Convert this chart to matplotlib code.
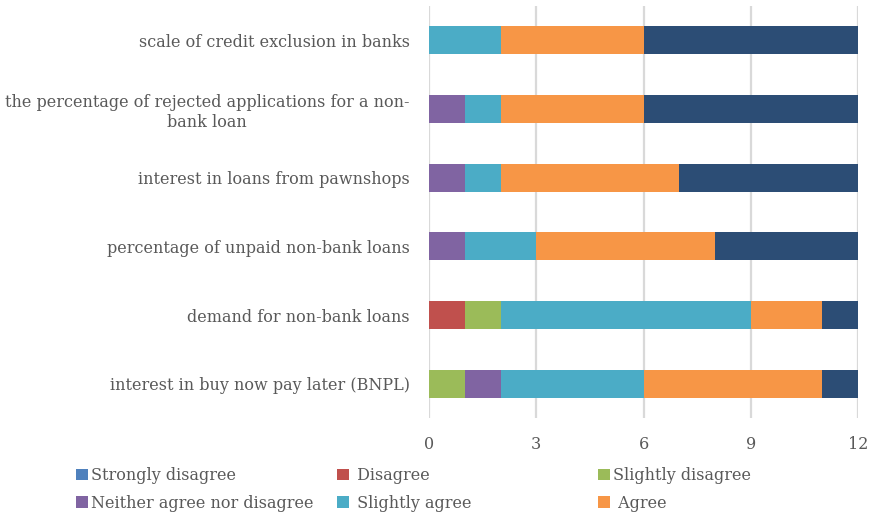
import matplotlib
matplotlib.use("Agg")
import matplotlib.pyplot as plt
from matplotlib.patches import Patch
import numpy as np

categories = [
    "interest in buy now pay later (BNPL)",
    "demand for non-bank loans",
    "percentage of unpaid non-bank loans",
    "interest in loans from pawnshops",
    "the percentage of rejected applications for a non-\nbank loan",
    "scale of credit exclusion in banks",
]
series_names = ["Strongly disagree", "Disagree", "Slightly disagree",
                "Neither agree nor disagree", "Slightly agree", "Agree", "Strongly agree"]
strongly_disagree = [0, 0, 0, 0, 0, 0]
disagree          = [0, 1, 0, 0, 0, 0]
slightly_disagree = [1, 1, 0, 0, 0, 0]
neither           = [1, 0, 1, 1, 1, 0]
slightly_agree    = [4, 7, 2, 1, 1, 2]
agree             = [5, 2, 5, 5, 4, 4]
strongly_agree    = [1, 1, 4, 5, 6, 6]
x_ticks = [0, 3, 6, 9, 12]

colors = ["#4F81BD", "#C0504D", "#9BBB59", "#8064A2", "#4BACC6", "#F79646", "#2C4D75"]
data = [strongly_disagree, disagree, slightly_disagree, neither,
        slightly_agree, agree, strongly_agree]

FONT = "DejaVu Serif"
TXT = "#595959"
plt.rcParams["font.family"] = FONT

fig = plt.figure(figsize=(8.73, 5.16), dpi=100)
ax = fig.add_axes([429/873, 1-418/516, (858-429)/873, (418-6)/516])

y = np.arange(len(categories))
left = np.zeros(len(categories))
handles = []
for name, vals, c in zip(series_names, data, colors):
    vals = np.array(vals, dtype=float)
    ax.barh(y, vals, left=left, height=0.41, color=c, zorder=3)
    left += vals
    handles.append(Patch(facecolor=c, label=name))

ax.set_xlim(0, 12)
ax.set_ylim(-0.5, len(categories) - 0.5)
ax.set_xticks(x_ticks)
ax.set_xticklabels([str(t) for t in x_ticks])
ax.set_yticks(y)
ax.set_yticklabels(categories)
for t in ax.get_yticklabels():
    t.set_multialignment("center")
ax.grid(axis="x", color="#D9D9D9", linewidth=1.6, zorder=0)
for s in ax.spines.values():
    s.set_visible(False)
ax.tick_params(axis="both", length=0, colors=TXT, labelsize=11.5)
ax.tick_params(axis="y", pad=14)
ax.tick_params(axis="x", pad=13)

# legend: three columns, two rows (Strongly agree not shown)
col_x = [76/873, 337/873, 598/873]
cols = [[handles[0], handles[3]], [handles[1], handles[4]], [handles[2], handles[5]]]
col_labels = [["Strongly disagree", "Neither agree nor disagree"],
              [" Disagree", " Slightly agree"],
              ["Slightly disagree", " Agree"]]
for cx, hs, labels in zip(col_x, cols, col_labels):
    fig.legend(hs, labels, loc="upper left", bbox_to_anchor=(cx, 1-467/516),
               frameon=False, handlelength=0.75, handleheight=0.75,
               handletextpad=0.2, labelspacing=0.68, borderpad=0,
               borderaxespad=0, fontsize=11.5, labelcolor=TXT)

fig.savefig("out.png", dpi=100)
